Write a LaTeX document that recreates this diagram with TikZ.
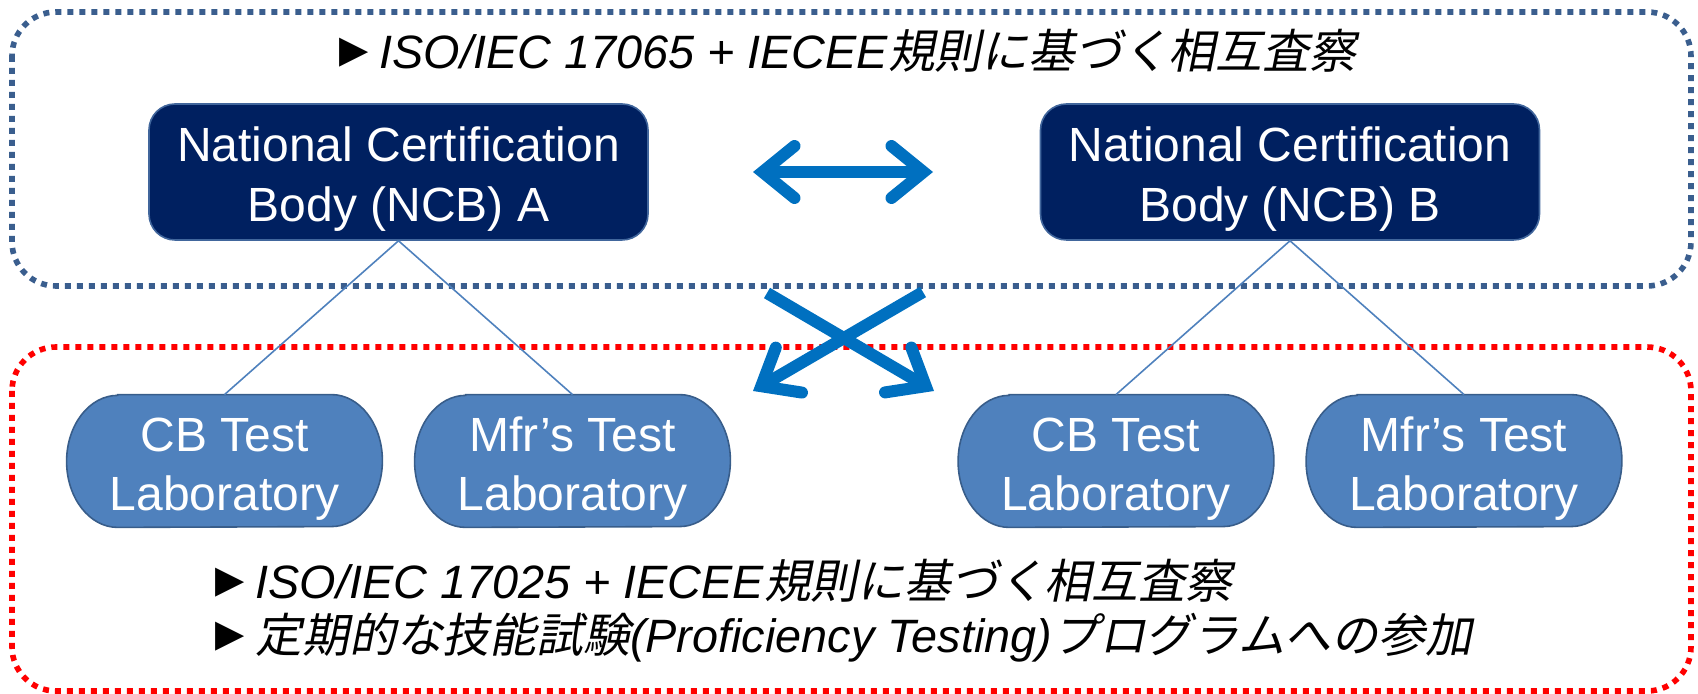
\documentclass[tikz,border=0pt]{standalone}
\usepackage{fontspec}
\setmainfont{Liberation Sans}
\newfontfamily\jpfont[FakeSlant=0.2]{Noto Sans CJK JP}
\newfontfamily\symfont{DejaVu Sans}
\usetikzlibrary{arrows.meta,backgrounds}
\definecolor{ncbblue}{HTML}{002060}
\definecolor{ncbedge}{HTML}{41669C}
\definecolor{labblue}{HTML}{4F81BD}
\definecolor{labedge}{HTML}{385D8A}
\definecolor{arrowblue}{HTML}{0070C0}
\definecolor{frameblue}{HTML}{3A5E8E}
\newcommand{\notemark}{\raisebox{3pt}{\upshape\symfont\fontsize{19}{19}\selectfont ▶}\hspace{5.5pt}}
\newcommand{\firstline}{\rule{0pt}{24.5pt}}
\begin{document}
\begin{tikzpicture}[
        x=0.5pt, y=-0.5pt,
        ncb/.style={draw=ncbedge, line width=0.8pt, fill=ncbblue, text=white, rounded corners=13pt, inner sep=0pt,
            minimum width=249.5pt, minimum height=68pt, align=center, font=\fontsize{24}{30}\selectfont},
        lab/.style={draw=none, fill=none, text=white, inner sep=0pt,
            minimum width=157.5pt, minimum height=66pt, align=center, font=\fontsize{24}{29.5}\selectfont},
        labshape/.style={draw=labedge, line width=0.8pt, fill=labblue},
        note/.style={anchor=base west, inner sep=0pt, font=\itshape\fontsize{23.4}{27}\selectfont},
        frame/.style={line width=2.8pt, dash pattern=on 3pt off 3pt, rounded corners=22pt},
        bigarrow/.style={draw=arrowblue, line width=6pt,
            -{Straight Barb[length=16pt, width=26pt, line cap=round, line join=miter]}},
        edge from parent/.style={draw=labblue, line width=0.8pt},
        parent anchor=south, child anchor=north,
        level distance=144.5pt,
        level 1/.style={xshift=3pt},
        sibling distance=174pt,
    ]
    \useasboundingbox (0,0) rectangle (1698,694);
    \draw[frame, frameblue] (12,12) rectangle (1691,286);
    \draw[frame, red] (12,347) rectangle (1691,691);

    \node[ncb](ncbA) at (398.5,172) {\firstline National Certification\\Body (NCB) A}
    child{node[lab](cbA){\firstline CB Test\\Laboratory}}
    child{node[lab](mfrA){\firstline Mfr’s Test\\Laboratory}}
    ;
    \node[ncb](ncbB) at (1290,172) {\firstline National Certification\\Body (NCB) B}
    child{node[lab](cbB){\firstline CB Test\\Laboratory}}
    child{node[lab](mfrB){\firstline Mfr’s Test\\Laboratory}}
    ;
    \begin{scope}[on background layer]
    \foreach \lab in {cbA,mfrA,cbB,mfrB}
        \draw[labshape] ([xshift=25.5pt]\lab.north west) -- ([xshift=-25.5pt]\lab.north east)
            arc[start angle=90, end angle=-90, x radius=25.5pt, y radius=33pt]
            -- ([xshift=25.5pt]\lab.south west)
            arc[start angle=270, end angle=90, x radius=25.5pt, y radius=33pt] -- cycle;
    \end{scope}

    \coordinate (mutualL) at (753,172);
    \coordinate (mutualR) at (933,172);
    \coordinate (crossA) at (767,293);
    \coordinate (crossAend) at (934,391);
    \coordinate (crossB) at (923,292);
    \coordinate (crossBend) at (753,391);
    \draw[bigarrow, {Straight Barb[length=16pt, width=26pt, line cap=round, line join=miter]}-{Straight Barb[length=16pt, width=26pt, line cap=round, line join=miter]}] (mutualL) -- (mutualR);
    \draw[bigarrow] (crossA) -- (crossAend);
    \draw[bigarrow] (crossB) -- (crossBend);

    \node[note](ncbnote) at (339,69) {\notemark ISO/IEC 17065 + IECEE{\jpfont 規則に基づく相互査察}};
    \node[note](labnote) at (215,599) {\notemark ISO/IEC 17025 + IECEE{\jpfont 規則に基づく相互査察}};
    \node[note](ptnote) at (215,653) {\notemark{\jpfont 定期的な技能試験}(Proficiency Testing){\jpfont プログラムへの参加}};
\end{tikzpicture}
\end{document}
